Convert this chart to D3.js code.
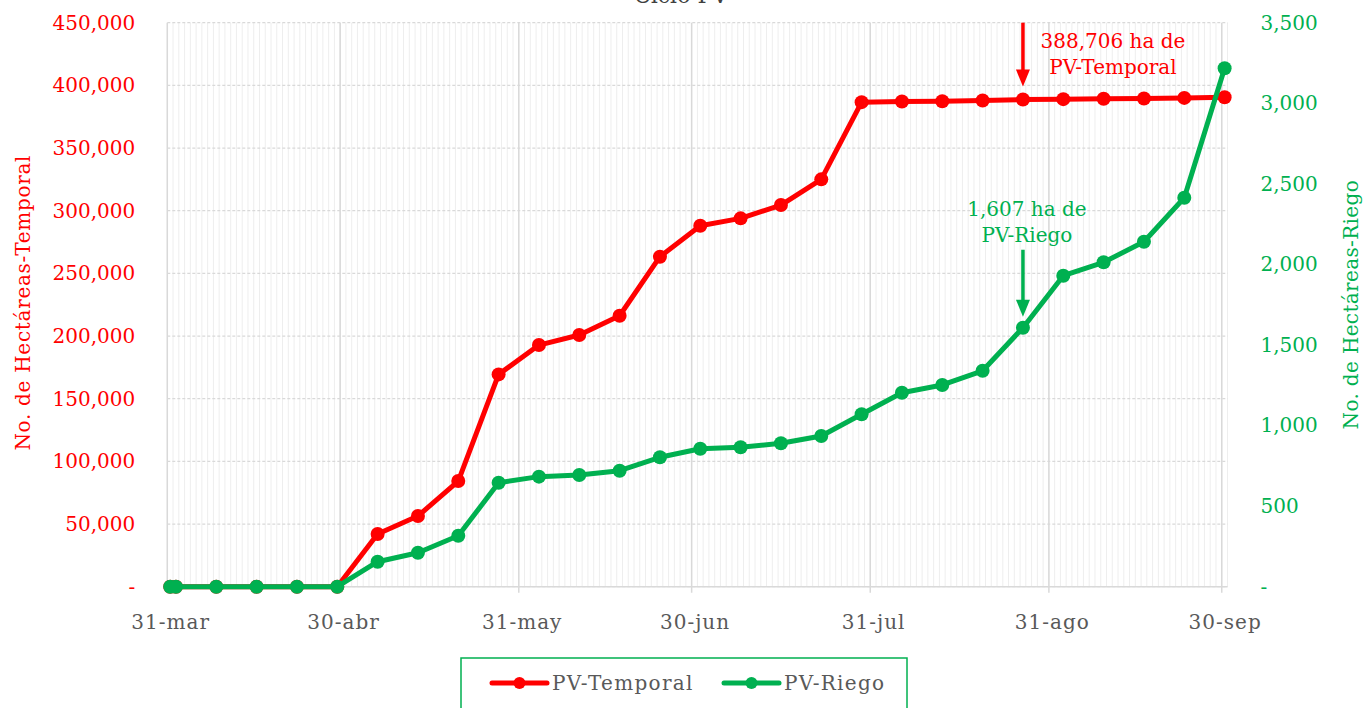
<!DOCTYPE html>
<html>
<head>
<meta charset="utf-8">
<script src="https://cdn.jsdelivr.net/npm/d3@7"></script>
<style>
  html, body { margin: 0; padding: 0; background: #fff; }
  svg { display: block; font-family: "DejaVu Serif", serif; }
</style>
</head>
<body>
<svg id="chart" width="1363" height="708"></svg>
<script>
// ---- Data ----
const dates = ["2023-03-31","2023-04-01","2023-04-08","2023-04-15","2023-04-22","2023-04-29",
  "2023-05-06","2023-05-13","2023-05-20","2023-05-27","2023-06-03","2023-06-10","2023-06-17",
  "2023-06-24","2023-07-01","2023-07-08","2023-07-15","2023-07-22","2023-07-29","2023-08-05",
  "2023-08-12","2023-08-19","2023-08-26","2023-09-02","2023-09-09","2023-09-16","2023-09-23","2023-09-30"];
const temporal = [0,0,0,0,0,0,
  42000,56400,84300,169400,192800,200800,216200,
  263300,288000,293900,304500,325000,386600,387100,
  387300,387900,388706,389000,389300,389500,390000,390500];
const riego = [0,0,0,0,0,0,
  155,211,316,645,683,693,720,
  803,856,865,890,935,1070,1204,
  1252,1340,1607,1930,2013,2141,2414,3217];
const xTickDates = ["2023-03-31","2023-04-30","2023-05-31","2023-06-30","2023-07-31","2023-08-31","2023-09-30"];
const xTickLabels = ["31-mar","30-abr","31-may","30-jun","31-jul","31-ago","30-sep"];
const leftTicks = [0,50000,100000,150000,200000,250000,300000,350000,400000,450000];
const rightTicks = [0,500,1000,1500,2000,2500,3000,3500];
const seriesNames = ["PV-Temporal","PV-Riego"];
const annotTemporal = ["388,706 ha de","PV-Temporal"];
const annotRiego = ["1,607 ha de","PV-Riego"];
const annotDate = "2023-08-26";
const titleText = "Ciclo PV";
const yLeftTitle = "No. de Hectáreas-Temporal";
const yRightTitle = "No. de Hectáreas-Riego";

// ---- Setup ----
const RED = "#ff0000", GREEN = "#00b050", GRAY = "#595959";
const parse = d3.timeParse("%Y-%m-%d");
const mid = s => d3.timeHour.offset(parse(s), 12);
const svg = d3.select("#chart");

const pL = 167.3, pR = 1227.5, pT = 22.7, pB = 586.7;
const x = d3.scaleTime().domain([parse("2023-03-31"), parse("2023-10-01")]).range([pL, pR]);
const yL = d3.scaleLinear().domain([0, 450000]).range([pB, pT]);
const yR = d3.scaleLinear().domain([0, 3500]).range([pB, pT]);

// ---- Grid ----
const grid = svg.append("g");
const days = d3.timeDay.range(parse("2023-03-31"), parse("2023-10-02"));
grid.selectAll("line.minor").data(days).join("line")
  .attr("x1", d => x(d)).attr("x2", d => x(d))
  .attr("y1", pT).attr("y2", pB)
  .attr("stroke", "#eeeeee").attr("stroke-width", 1);
grid.selectAll("line.hgrid").data(leftTicks).join("line")
  .attr("x1", pL).attr("x2", pR)
  .attr("y1", d => yL(d)).attr("y2", d => yL(d))
  .attr("stroke", "#d9d9d9").attr("stroke-width", 1.3)
  .attr("stroke-dasharray", "3,2");
grid.selectAll("line.major").data(xTickDates).join("line")
  .attr("x1", d => x(parse(d))).attr("x2", d => x(parse(d)))
  .attr("y1", pT).attr("y2", pB + 6)
  .attr("stroke", "#d9d9d9").attr("stroke-width", 1.5);
grid.append("line").attr("x1", pL).attr("x2", pR)
  .attr("y1", pB).attr("y2", pB).attr("stroke", "#d9d9d9").attr("stroke-width", 1.5);

// ---- Axes ----
const fmt = d3.format(",");
const yAxisL = d3.axisLeft(yL).tickValues(leftTicks).tickSize(0).tickPadding(32)
  .tickFormat(d => d === 0 ? "-" : fmt(d));
const gL = svg.append("g").attr("transform", `translate(${pL},0)`).call(yAxisL);
gL.select(".domain").remove();
gL.selectAll("text").attr("fill", RED).style("font-size", "20px").style("font-family", "DejaVu Serif");

const yAxisR = d3.axisRight(yR).tickValues(rightTicks).tickSize(0).tickPadding(33)
  .tickFormat(d => d === 0 ? "-" : fmt(d));
const gR = svg.append("g").attr("transform", `translate(${pR},0)`).call(yAxisR);
gR.select(".domain").remove();
gR.selectAll("text").attr("fill", GREEN).style("font-size", "20px").style("font-family", "DejaVu Serif");

const xAxis = d3.axisBottom(x).tickValues(xTickDates.map(mid)).tickSize(0).tickPadding(28)
  .tickFormat((d, i) => xTickLabels[i]);
const gX = svg.append("g").attr("transform", `translate(0,${pB})`).call(xAxis);
gX.select(".domain").remove();
gX.selectAll("text").attr("fill", GRAY).style("font-size", "20px")
  .style("font-family", "DejaVu Serif").style("letter-spacing", "1px");

// Axis titles
svg.append("text").attr("transform", `translate(30,${(pT+pB)/2 - 2}) rotate(-90)`)
  .attr("text-anchor", "middle").attr("fill", RED).style("font-size", "20px")
  .style("letter-spacing", "0.7px").text(yLeftTitle);
svg.append("text").attr("transform", `translate(1358,${(pT+pB)/2}) rotate(-90)`)
  .attr("text-anchor", "middle").attr("fill", GREEN).style("font-size", "20px")
  .style("letter-spacing", "0.35px").text(yRightTitle);

// Title
svg.append("text").attr("x", 681).attr("y", 3).attr("text-anchor", "middle")
  .attr("fill", "#404040").style("font-size", "22px").text(titleText);

// ---- Series ----
const dataT = dates.map((d, i) => ({ d: mid(d), v: temporal[i] }));
const dataR = dates.map((d, i) => ({ d: mid(d), v: riego[i] }));

function drawSeries(data, yScale, color) {
  const g = svg.append("g");
  g.append("path").datum(data)
    .attr("d", d3.line().x(p => x(p.d)).y(p => yScale(p.v)))
    .attr("fill", "none").attr("stroke", color).attr("stroke-width", 5)
    .attr("stroke-linejoin", "round");
  g.selectAll("circle").data(data).join("circle")
    .attr("cx", p => x(p.d)).attr("cy", p => yScale(p.v)).attr("r", 7)
    .attr("fill", color);
}
drawSeries(dataT, yL, RED);
drawSeries(dataR, yR, GREEN);

// ---- Annotations ----
function arrow(xp, y1, y2, color) {
  svg.append("line").attr("x1", xp).attr("x2", xp).attr("y1", y1).attr("y2", y2 - 14)
    .attr("stroke", color).attr("stroke-width", 3.5);
  svg.append("path").attr("d", `M${xp-7},${y2-17} L${xp+7},${y2-17} L${xp},${y2} Z`).attr("fill", color);
}
const ax = x(mid(annotDate));
const ai = dates.indexOf(annotDate);
arrow(ax, pT, yL(temporal[ai]) - 13, RED);
arrow(ax, yR(riego[ai]) - 78, yR(riego[ai]) - 11, GREEN);

const tT = svg.append("text").attr("text-anchor", "middle").attr("fill", RED).style("font-size", "20px");
annotTemporal.forEach((s, i) => tT.append("tspan").attr("x", ax + 90).attr("y", 48 + i * 26).text(s));
const tR = svg.append("text").attr("text-anchor", "middle").attr("fill", GREEN).style("font-size", "20px");
annotRiego.forEach((s, i) => tR.append("tspan").attr("x", ax + 4).attr("y", yR(riego[ai]) - 112 + i * 26).text(s));

// ---- Legend ----
const lg = svg.append("g");
lg.append("rect").attr("x", 461).attr("y", 658).attr("width", 446).attr("height", 60)
  .attr("fill", "#fff").attr("stroke", GREEN).attr("stroke-width", 1.5);
const legendItems = [{ name: seriesNames[0], color: RED, x0: 492 }, { name: seriesNames[1], color: GREEN, x0: 724 }];
legendItems.forEach(it => {
  lg.append("line").attr("x1", it.x0).attr("x2", it.x0 + 55).attr("y1", 683).attr("y2", 683)
    .attr("stroke", it.color).attr("stroke-width", 5).attr("stroke-linecap", "round");
  lg.append("circle").attr("cx", it.x0 + 27.5).attr("cy", 683).attr("r", 6).attr("fill", it.color);
  lg.append("text").attr("x", it.x0 + 60).attr("y", 690).attr("fill", GRAY)
    .style("font-size", "20px").style("letter-spacing", "1.3px").text(it.name);
});
</script>
</body>
</html>
